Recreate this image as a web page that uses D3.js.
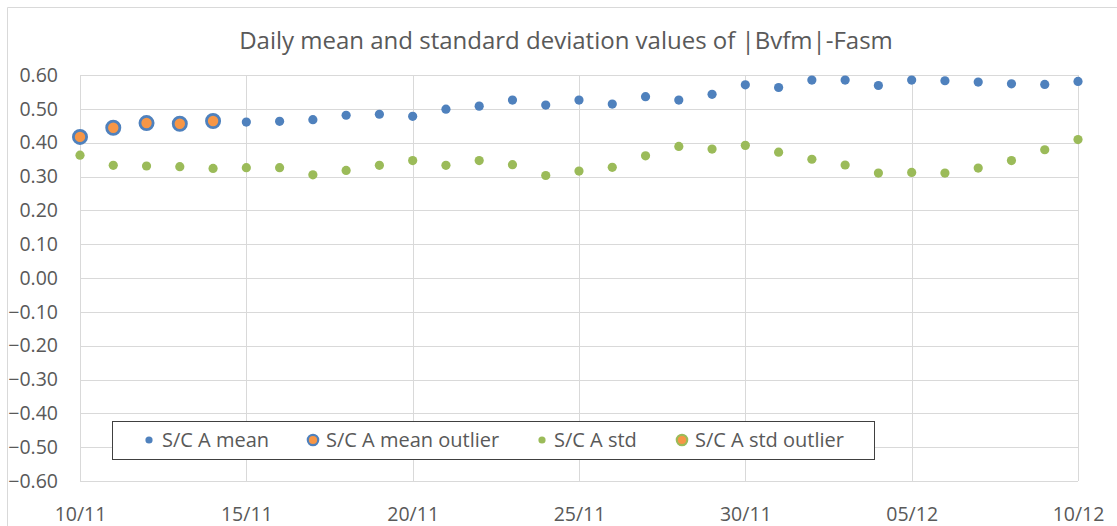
<!DOCTYPE html>
<html><head><meta charset="utf-8">
<script src="https://cdn.jsdelivr.net/npm/d3@7"></script>
<style>
html,body{margin:0;padding:0;background:#fff;}
text{font-family:"Open Sans","Noto Sans",sans-serif;fill:#595959;}
</style></head>
<body><svg id="chart" width="1117" height="526"></svg>
<script>
const title = "Daily mean and standard deviation values of |Bvfm|-Fasm";
const startDate = "2020-11-10";
const meanValues = [0.417,0.444,0.458,0.456,0.464,0.461,0.463,0.468,0.481,0.484,
  0.478,0.499,0.508,0.526,0.511,0.526,0.514,0.536,0.526,0.543,0.571,
  0.563,0.585,0.585,0.569,0.585,0.583,0.579,0.574,0.572,0.581];
const stdValues = [0.363,0.333,0.331,0.329,0.324,0.326,0.326,0.305,0.318,0.333,
  0.347,0.333,0.347,0.335,0.303,0.316,0.327,0.361,0.389,0.381,0.392,
  0.372,0.351,0.334,0.310,0.312,0.310,0.325,0.347,0.379,0.409];
const meanOutlierIdx = [0,1,2,3,4];
const stdOutlierIdx = [];
const yTicks = [-0.6,-0.5,-0.4,-0.3,-0.2,-0.1,0,0.1,0.2,0.3,0.4,0.5,0.6];
const xTickLabels = ["10/11","15/11","20/11","25/11","30/11","05/12","10/12"];
const legendLabels = ["S/C A mean","S/C A mean outlier","S/C A std","S/C A std outlier"];

const blue="#4F81BD", green="#9BBB59", orange="#F79646";
const svg = d3.select("#chart");
const parse = d3.utcParse("%Y-%m-%d");
const d0 = parse(startDate);
const dates = meanValues.map((_,i)=>d3.utcDay.offset(d0,i));
const L=80,R=1078,T=75,B=481;
const x = d3.scaleUtc().domain([d0, dates[dates.length-1]]).range([L,R]);
const y = d3.scaleLinear().domain([-0.6,0.6]).range([B,T]);
const xTickDates = xTickLabels.map((_,i)=>d3.utcDay.offset(d0,i*5));

// outer border
svg.append("path").attr("d","M7.5,526 V7.5 H1117").attr("fill","none").attr("stroke","#D9D9D9");

// title
svg.append("text").attr("x",566).attr("y",49).attr("text-anchor","middle")
  .style("font-size","24px").text(title);

// gridlines
svg.append("g").selectAll("line").data(yTicks).join("line")
  .attr("x1",L).attr("x2",R).attr("y1",d=>Math.round(y(d))+0.5).attr("y2",d=>Math.round(y(d))+0.5)
  .attr("stroke","#D9D9D9");
svg.append("g").selectAll("line").data(xTickDates).join("line")
  .attr("y1",T).attr("y2",B).attr("x1",d=>Math.round(x(d))+0.5).attr("x2",d=>Math.round(x(d))+0.5)
  .attr("stroke","#D9D9D9");

// axes
const yAxis = d3.axisLeft(y).tickValues(yTicks).tickFormat(d3.format(".2f")).tickSize(0).tickPadding(22);
const gy = svg.append("g").attr("transform",`translate(${L},0)`).call(yAxis);
gy.select(".domain").remove();
gy.selectAll("text").style("font-size","19.5px").attr("fill","#595959");
const xAxis = d3.axisBottom(x).tickValues(xTickDates).tickFormat((d,i)=>xTickLabels[i]).tickSize(0).tickPadding(0);
const gx = svg.append("g").attr("transform",`translate(0,${B})`).call(xAxis);
gx.select(".domain").remove();
gx.selectAll("text").style("font-size","19.5px").attr("fill","#595959").attr("y",40).attr("dy",null);
svg.selectAll(".tick text").style("font-family",'"Open Sans","Noto Sans",sans-serif');

// points
svg.append("g").selectAll("circle").data(stdValues).join("circle")
  .attr("cx",(d,i)=>x(dates[i])).attr("cy",d=>y(d)).attr("r",4.6).attr("fill",green);
svg.append("g").selectAll("circle").data(meanValues).join("circle")
  .attr("cx",(d,i)=>x(dates[i])).attr("cy",d=>y(d)).attr("r",4.6).attr("fill",blue);
svg.append("g").selectAll("circle").data(meanOutlierIdx).join("circle")
  .attr("cx",i=>x(dates[i])).attr("cy",i=>y(meanValues[i])).attr("r",6.6)
  .attr("fill",orange).attr("stroke",blue).attr("stroke-width",2.8);
svg.append("g").selectAll("circle").data(stdOutlierIdx).join("circle")
  .attr("cx",i=>x(dates[i])).attr("cy",i=>y(stdValues[i])).attr("r",6.6)
  .attr("fill",orange).attr("stroke",green).attr("stroke-width",2.8);

// legend
const lg = svg.append("g");
lg.append("rect").attr("x",112.5).attr("y",421.5).attr("width",762).attr("height",38)
  .attr("fill","#fff").attr("stroke","#404040").attr("stroke-width",1);
const items = [
  {lab:legendLabels[0], mx:149, tx:162, type:"dot", c:blue},
  {lab:legendLabels[1], mx:313, tx:326, type:"out", c:blue},
  {lab:legendLabels[2], mx:542, tx:554, type:"dot", c:green},
  {lab:legendLabels[3], mx:682, tx:695, type:"out", c:green}
];
items.forEach(it=>{
  if(it.type==="dot") lg.append("circle").attr("cx",it.mx).attr("cy",440).attr("r",3.6).attr("fill",it.c);
  else lg.append("circle").attr("cx",it.mx).attr("cy",440).attr("r",5.2).attr("fill",orange).attr("stroke",it.c).attr("stroke-width",2.2);
  lg.append("text").attr("x",it.tx).attr("y",447).style("font-size","20px").text(it.lab);
});
</script></body></html>
